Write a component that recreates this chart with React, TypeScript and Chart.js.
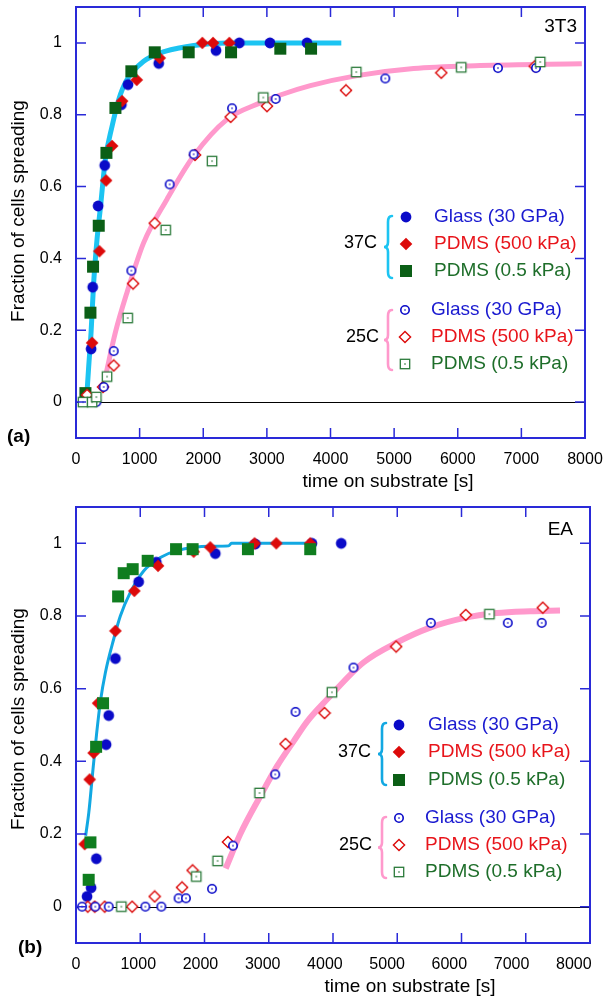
import React, { useEffect, useRef } from 'react';
import { Chart, registerables } from 'chart.js';

Chart.register(...registerables);

const FONT = '"Liberation Sans", Arial, Helvetica, sans-serif';

// ---------- shared labels / ticks ----------
const xTickValues = [0, 1000, 2000, 3000, 4000, 5000, 6000, 7000, 8000];
const yTickValues = [0, 0.2, 0.4, 0.6, 0.8, 1];
const seriesLabels = ['Glass (30 GPa)', 'PDMS (500 kPa)', 'PDMS (0.5 kPa)'];
const groupLabels = ['37C', '25C'];
const panelNames = ['3T3', 'EA'];
const panelLetters = ['(a)', '(b)'];
const xTitle = 'time on substrate [s]';
const yTitle = 'Fraction of cells spreading';

// ---------- panel (a) 3T3 ----------
const a37GlassX = [237, 263, 347, 451, 713, 818, 1300, 2201, 2567, 3049, 3631];
const a37GlassY = [0.148, 0.32, 0.546, 0.659, 0.828, 0.884, 0.943, 0.979, 1.0, 1.0, 1.0];
const a37Pdms500X = [163, 253, 368, 473, 567, 724, 954, 1315, 1986, 2154, 2410];
const a37Pdms500Y = [0.023, 0.165, 0.42, 0.617, 0.713, 0.838, 0.897, 0.958, 1.0, 1.0, 1.0];
const a37Pdms05X = [148, 226, 268, 357, 478, 619, 870, 1237, 1771, 2437, 3211, 3694];
const a37Pdms05Y = [0.025, 0.249, 0.377, 0.491, 0.694, 0.819, 0.921, 0.974, 0.974, 0.974, 0.984, 0.984];
const a25GlassX = [320, 436, 593, 870, 1472, 1849, 2452, 3138, 4861, 6632, 7229];
const a25GlassY = [0.0, 0.042, 0.142, 0.366, 0.606, 0.69, 0.818, 0.844, 0.901, 0.93, 0.93];
const a25Pdms500X = [174, 425, 593, 897, 1237, 1871, 2431, 3001, 4243, 5741, 7210];
const a25Pdms500Y = [0.02, 0.042, 0.102, 0.33, 0.498, 0.688, 0.794, 0.824, 0.868, 0.917, 0.935];
const a25Pdms05X = [111, 253, 320, 488, 813, 1410, 2138, 2944, 4405, 6055, 7296];
const a25Pdms05Y = [0.0, 0.0, 0.014, 0.071, 0.234, 0.479, 0.671, 0.848, 0.919, 0.932, 0.947];
const aFit37X = [174, 200, 237, 278, 331, 383, 462, 567, 671, 803, 1064, 1326, 1600, 1849, 2374, 3000, 4170];
const aFit37Y = [0.03, 0.1, 0.195, 0.333, 0.454, 0.54, 0.676, 0.768, 0.842, 0.898, 0.949, 0.972, 0.985, 0.993, 1.0, 1.0, 1.0];
const aFit25X = [473, 619, 803, 1064, 1431, 1849, 2374, 2897, 3211, 3683, 4416, 5306, 6354, 7950];
const aFit25Y = [0.079, 0.194, 0.306, 0.444, 0.565, 0.685, 0.787, 0.833, 0.855, 0.881, 0.909, 0.929, 0.937, 0.942];

// ---------- panel (b) EA ----------
const b37GlassX = [172, 235, 317, 468, 509, 613, 975, 1250, 2168, 2790, 3672, 4128];
const b37GlassY = [0.028, 0.052, 0.132, 0.446, 0.526, 0.683, 0.894, 0.948, 0.972, 0.998, 1.0, 1.0];
const b37Pdms500X = [135, 213, 275, 344, 613, 908, 1277, 1831, 2090, 2779, 3117, 3645];
const b37Pdms500Y = [0.172, 0.35, 0.423, 0.56, 0.759, 0.869, 0.938, 0.977, 0.989, 1.0, 1.0, 1.0];
const b37Pdms05X = [197, 224, 313, 421, 655, 742, 882, 1115, 1557, 1815, 2676, 3645];
const b37Pdms05Y = [0.074, 0.177, 0.44, 0.56, 0.854, 0.918, 0.929, 0.952, 0.984, 0.984, 0.984, 0.984];
const b25GlassX = [95, 300, 509, 1079, 1328, 1597, 1712, 2117, 2443, 3101, 3417, 4319, 5523, 6720, 7249];
const b25GlassY = [0, 0, 0, 0, 0, 0.023, 0.023, 0.049, 0.168, 0.364, 0.536, 0.658, 0.781, 0.781, 0.781];
const b25Pdms500X = [182, 291, 446, 874, 1224, 1650, 1815, 2365, 3261, 3868, 4983, 6067, 7265];
const b25Pdms500Y = [0, 0, 0, 0, 0.028, 0.053, 0.1, 0.178, 0.448, 0.533, 0.716, 0.803, 0.823];
const b25Pdms05X = [706, 1872, 2204, 2857, 3983, 6434];
const b25Pdms05Y = [0, 0.083, 0.126, 0.313, 0.59, 0.805];
const bFit37X = [150, 200, 260, 320, 380, 457, 586, 690, 846, 1053, 1313, 1572, 2090, 2375, 2420, 3650];
const bFit37Y = [0.195, 0.26, 0.37, 0.475, 0.565, 0.644, 0.736, 0.8, 0.865, 0.924, 0.961, 0.98, 0.992, 0.993, 1.0, 1.0];
const bFit25X = [2330, 2557, 2868, 3127, 3386, 3600, 3905, 4474, 4994, 5511, 6030, 6549, 7067, 7533];
const bFit25Y = [0.105, 0.2, 0.304, 0.386, 0.455, 0.51, 0.57, 0.672, 0.727, 0.768, 0.794, 0.808, 0.813, 0.815];

// ---------- styles ----------
const BLUE = '#0a0ac8';
const RED = '#dc0a0a';
const GREEN_DARK = '#0b5f16';
const GREEN_BRIGHT = '#0f7d1f';
const GREEN_OPEN = '#2b7a3a';
const TXT_BLUE = '#1a1ad0';
const TXT_RED = '#e8141a';
const TXT_GREEN = '#1e6e2a';
const AXIS_BLUE = '#2a2ad8';
const CYAN_A = '#1cc4f2';
const CYAN_B = '#12a8e2';
const PINK = '#ff99cc';

type Kind = 'fcircle' | 'fdiamond' | 'fsquare' | 'ocircle' | 'odiamond' | 'osquare';

function makeMarker(kind: Kind, color: string): HTMLCanvasElement {
  const size = 14;
  const c = document.createElement('canvas');
  c.width = size;
  c.height = size;
  const g = c.getContext('2d')!;
  const m = size / 2;
  g.fillStyle = color;
  g.strokeStyle = color;
  if (kind === 'fcircle') {
    g.beginPath();
    g.arc(m, m, 5.4, 0, Math.PI * 2);
    g.fill();
  } else if (kind === 'fdiamond') {
    g.beginPath();
    g.moveTo(m, m - 6.3);
    g.lineTo(m + 6.3, m);
    g.lineTo(m, m + 6.3);
    g.lineTo(m - 6.3, m);
    g.closePath();
    g.fill();
  } else if (kind === 'fsquare') {
    g.fillRect(m - 6, m - 6, 12, 12);
  } else if (kind === 'ocircle') {
    g.fillStyle = '#fff';
    g.beginPath();
    g.arc(m, m, 4.2, 0, Math.PI * 2);
    g.fill();
    g.lineWidth = 1.6;
    g.stroke();
    g.fillStyle = color;
    g.fillRect(m - 0.7, m - 0.7, 1.4, 1.4);
  } else if (kind === 'odiamond') {
    g.fillStyle = '#fff';
    g.beginPath();
    g.moveTo(m, m - 5.6);
    g.lineTo(m + 5.6, m);
    g.lineTo(m, m + 5.6);
    g.lineTo(m - 5.6, m);
    g.closePath();
    g.fill();
    g.lineWidth = 1.4;
    g.stroke();
  } else {
    g.fillStyle = '#fff';
    g.fillRect(m - 4.7, m - 4.7, 9.4, 9.4);
    g.lineWidth = 1.3;
    g.strokeRect(m - 4.7, m - 4.7, 9.4, 9.4);
    g.fillStyle = color;
    g.fillRect(m - 0.7, m - 0.7, 1.4, 1.4);
  }
  return c;
}

const pts = (xs: number[], ys: number[]) => xs.map((x, i) => ({ x, y: ys[i] }));

function drawBrace(ctx: CanvasRenderingContext2D, x: number, y1: number, y2: number, color: string) {
  const ym = (y1 + y2) / 2;
  ctx.save();
  ctx.strokeStyle = color;
  ctx.lineWidth = 2.6;
  ctx.lineCap = 'round';
  ctx.beginPath();
  ctx.moveTo(x + 4, y1);
  ctx.quadraticCurveTo(x, y1, x, y1 + 6);
  ctx.lineTo(x, ym - 5);
  ctx.quadraticCurveTo(x, ym, x - 4, ym);
  ctx.quadraticCurveTo(x, ym, x, ym + 5);
  ctx.lineTo(x, y2 - 6);
  ctx.quadraticCurveTo(x, y2, x + 4, y2);
  ctx.stroke();
  ctx.restore();
}

interface Group {
  labelRight: number;
  labelY: number;
  rows: number[];
  markerX: number;
  textX: number;
  braceX: number;
  braceTop: number;
  braceBot: number;
  braceColor: string;
  markers: HTMLCanvasElement[];
}

interface PanelCfg {
  name: string;
  letter: string;
  nameRight: number;
  nameY: number;
  letterX: number;
  letterY: number;
  yTitleX: number;
  yTitleY: number;
  xTitleX: number;
  xTitleY: number;
  groups: Group[];
}

function decorPlugin(cfg: PanelCfg) {
  return {
    id: 'decor',
    beforeDatasetsDraw(chart: any) {
      const { ctx, chartArea: a, scales } = chart;
      const y0 = Math.round(scales.y.getPixelForValue(0)) + 0.5;
      ctx.save();
      ctx.strokeStyle = '#000';
      ctx.lineWidth = 1;
      ctx.beginPath();
      ctx.moveTo(a.left, y0);
      ctx.lineTo(a.right, y0);
      ctx.stroke();
      ctx.restore();
    },
    afterDraw(chart: any) {
      const { ctx, chartArea: a, scales } = chart;
      ctx.save();
      // frame + inward ticks
      ctx.strokeStyle = AXIS_BLUE;
      ctx.lineWidth = 2;
      ctx.strokeRect(a.left, a.top, a.right - a.left, a.bottom - a.top);
      ctx.lineWidth = 1.5;
      ctx.beginPath();
      xTickValues.forEach((v) => {
        const px = scales.x.getPixelForValue(v);
        ctx.moveTo(px, a.bottom);
        ctx.lineTo(px, a.bottom - 10);
        ctx.moveTo(px, a.top);
        ctx.lineTo(px, a.top + 10);
      });
      yTickValues.forEach((v) => {
        const py = scales.y.getPixelForValue(v);
        ctx.moveTo(a.left, py);
        ctx.lineTo(a.left + 10, py);
        ctx.moveTo(a.right, py);
        ctx.lineTo(a.right - 10, py);
      });
      ctx.stroke();

      // texts
      ctx.fillStyle = '#000';
      ctx.textBaseline = 'middle';
      ctx.font = `19px ${FONT}`;
      ctx.textAlign = 'right';
      ctx.fillText(cfg.name, cfg.nameRight, cfg.nameY);
      ctx.font = `bold 19px ${FONT}`;
      ctx.textAlign = 'left';
      ctx.fillText(cfg.letter, cfg.letterX, cfg.letterY);
      ctx.font = `19px ${FONT}`;
      ctx.textAlign = 'center';
      ctx.fillText(xTitle, cfg.xTitleX, cfg.xTitleY);
      ctx.save();
      ctx.translate(cfg.yTitleX, cfg.yTitleY);
      ctx.rotate(-Math.PI / 2);
      ctx.fillText(yTitle, 0, 0);
      ctx.restore();

      // legend
      const txtColors = [TXT_BLUE, TXT_RED, TXT_GREEN];
      cfg.groups.forEach((gr, gi) => {
        ctx.fillStyle = '#000';
        ctx.font = `18px ${FONT}`;
        ctx.textAlign = 'right';
        ctx.fillText(groupLabels[gi], gr.labelRight, gr.labelY);
        drawBrace(ctx, gr.braceX, gr.braceTop, gr.braceBot, gr.braceColor);
        ctx.font = `19px ${FONT}`;
        gr.rows.forEach((ry, ri) => {
          const mk = gr.markers[ri];
          ctx.drawImage(mk, Math.round(gr.markerX - mk.width / 2), Math.round(ry - mk.height / 2));
          ctx.fillStyle = txtColors[ri];
          ctx.textAlign = 'left';
          ctx.fillText(seriesLabels[ri], gr.textX, ry);
        });
      });
      ctx.restore();
    },
  };
}

function zeroPad(s: any) {
  s.paddingLeft = 0;
  s.paddingRight = 0;
  s.paddingTop = 0;
  s.paddingBottom = 0;
}

function buildChart(
  canvas: HTMLCanvasElement,
  cfg: PanelCfg,
  layout: { top: number; right: number; xAxisH: number; labelMax: number },
  sets: { data: { x: number; y: number }[]; marker?: HTMLCanvasElement; line?: { color: string; width: number }; order: number }[]
) {
  const datasets = sets.map((s) =>
    s.line
      ? {
          data: s.data,
          showLine: true,
          pointRadius: 0,
          borderColor: s.line.color,
          borderWidth: s.line.width,
          cubicInterpolationMode: 'monotone',
          fill: false,
          order: s.order,
        }
      : {
          data: s.data,
          showLine: false,
          pointStyle: s.marker,
          pointRadius: 6,
          order: s.order,
        }
  );
  return new Chart(canvas, {
    type: 'scatter',
    data: { datasets: datasets as any },
    options: {
      animation: false,
      responsive: false,
      devicePixelRatio: 1,
      layout: { padding: { left: 0, right: layout.right, top: layout.top, bottom: 0 } },
      plugins: { legend: { display: false }, tooltip: { enabled: false } },
      scales: {
        // data axis (ticks drawn inward by the decor plugin)
        x: {
          type: 'linear',
          min: 0,
          max: 8000,
          display: false,
        },
        // label axis of the printed figure
        xl: {
          type: 'linear',
          axis: 'x',
          position: 'bottom',
          min: 0,
          max: layout.labelMax,
          afterBuildTicks: (s: any) => {
            s.ticks = xTickValues.map((v) => ({ value: v }));
          },
          afterFit: (s: any) => {
            s.height = layout.xAxisH;
            zeroPad(s);
          },
          grid: { display: false, drawTicks: false },
          border: { display: false },
          ticks: {
            autoSkip: false,
            maxRotation: 0,
            padding: 12,
            color: '#000',
            font: { family: FONT, size: 16 },
            callback: (v: any) => String(v),
          },
        },
        y: {
          type: 'linear',
          min: -0.1,
          max: 1.1,
          afterBuildTicks: (s: any) => {
            s.ticks = yTickValues.map((v) => ({ value: v }));
          },
          afterFit: (s: any) => {
            s.width = 76;
            zeroPad(s);
          },
          grid: { display: false, drawTicks: false },
          border: { display: false },
          ticks: {
            padding: 14,
            color: '#000',
            font: { family: FONT, size: 16 },
            callback: (v: any) => String(Math.round(v * 10) / 10),
          },
        },
      },
    } as any,
    plugins: [decorPlugin(cfg)],
  });
}

export default function App() {
  const topRef = useRef<HTMLCanvasElement>(null);
  const botRef = useRef<HTMLCanvasElement>(null);

  useEffect(() => {
    const mA = {
      g37: makeMarker('fcircle', BLUE),
      r37: makeMarker('fdiamond', RED),
      s37: makeMarker('fsquare', GREEN_DARK),
      g25: makeMarker('ocircle', BLUE),
      r25: makeMarker('odiamond', RED),
      s25: makeMarker('osquare', GREEN_OPEN),
    };
    const sqB = makeMarker('fsquare', GREEN_BRIGHT);

    const cfgA: PanelCfg = {
      name: panelNames[0],
      letter: panelLetters[0],
      nameRight: 577,
      nameY: 27,
      letterX: 7,
      letterY: 437,
      yTitleX: 19,
      yTitleY: 211,
      xTitleX: 388,
      xTitleY: 482,
      groups: [
        {
          labelRight: 377, labelY: 243, rows: [217, 243.5, 271], markerX: 406, textX: 434,
          braceX: 388, braceTop: 216, braceBot: 278, braceColor: CYAN_A,
          markers: [mA.g37, mA.r37, mA.s37],
        },
        {
          labelRight: 379, labelY: 337, rows: [309.5, 337, 363.5], markerX: 405, textX: 431,
          braceX: 388, braceTop: 310, braceBot: 370, braceColor: PINK,
          markers: [mA.g25, mA.r25, mA.s25],
        },
      ],
    };
    const cfgB: PanelCfg = {
      name: panelNames[1],
      letter: panelLetters[1],
      nameRight: 573,
      nameY: 30,
      letterX: 18,
      letterY: 448,
      yTitleX: 19,
      yTitleY: 219,
      xTitleX: 410,
      xTitleY: 487,
      groups: [
        {
          labelRight: 371, labelY: 252, rows: [225, 252, 279.5], markerX: 399, textX: 428,
          braceX: 382, braceTop: 223, braceBot: 285, braceColor: CYAN_B,
          markers: [mA.g37, mA.r37, mA.s37],
        },
        {
          labelRight: 372, labelY: 345, rows: [318, 345, 372], markerX: 399, textX: 425,
          braceX: 382, braceTop: 317, braceBot: 378, braceColor: PINK,
          markers: [mA.g25, mA.r25, mA.s25],
        },
      ],
    };

    const chartA = buildChart(topRef.current!, cfgA, { top: 6, right: 20, xAxisH: 62, labelMax: 8000 }, [
      { data: pts(a25Pdms05X, a25Pdms05Y), marker: mA.s25, order: 1 },
      { data: pts(a25GlassX, a25GlassY), marker: mA.g25, order: 2 },
      { data: pts(a25Pdms500X, a25Pdms500Y), marker: mA.r25, order: 3 },
      { data: pts(a37Pdms05X, a37Pdms05Y), marker: mA.s37, order: 4 },
      { data: pts(a37Pdms500X, a37Pdms500Y), marker: mA.r37, order: 5 },
      { data: pts(a37GlassX, a37GlassY), marker: mA.g37, order: 6 },
      { data: pts(aFit37X, aFit37Y), line: { color: CYAN_A, width: 5 }, order: 10 },
      { data: pts(aFit25X, aFit25Y), line: { color: PINK, width: 5 }, order: 11 },
    ]);
    const chartB = buildChart(botRef.current!, cfgB, { top: 7, right: 15, xAxisH: 57, labelMax: 8260 }, [
      { data: pts(b25Pdms05X, b25Pdms05Y), marker: mA.s25, order: 1 },
      { data: pts(b25GlassX, b25GlassY), marker: mA.g25, order: 2 },
      { data: pts(b25Pdms500X, b25Pdms500Y), marker: mA.r25, order: 3 },
      { data: pts(b37Pdms05X, b37Pdms05Y), marker: sqB, order: 4 },
      { data: pts(b37Pdms500X, b37Pdms500Y), marker: mA.r37, order: 5 },
      { data: pts(b37GlassX, b37GlassY), marker: mA.g37, order: 6 },
      { data: pts(bFit37X, bFit37Y), line: { color: CYAN_B, width: 3 }, order: 10 },
      { data: pts(bFit25X, bFit25Y), line: { color: PINK, width: 6 }, order: 11 },
    ]);
    return () => {
      chartA.destroy();
      chartB.destroy();
    };
  }, []);

  return (
    <div style={{ position: 'absolute', left: 0, top: 0, width: 605, height: 1000, background: '#fff' }}>
      <canvas ref={topRef} width={605} height={500} style={{ display: 'block', width: 605, height: 500 }} />
      <canvas ref={botRef} width={605} height={500} style={{ display: 'block', width: 605, height: 500 }} />
    </div>
  );
}
